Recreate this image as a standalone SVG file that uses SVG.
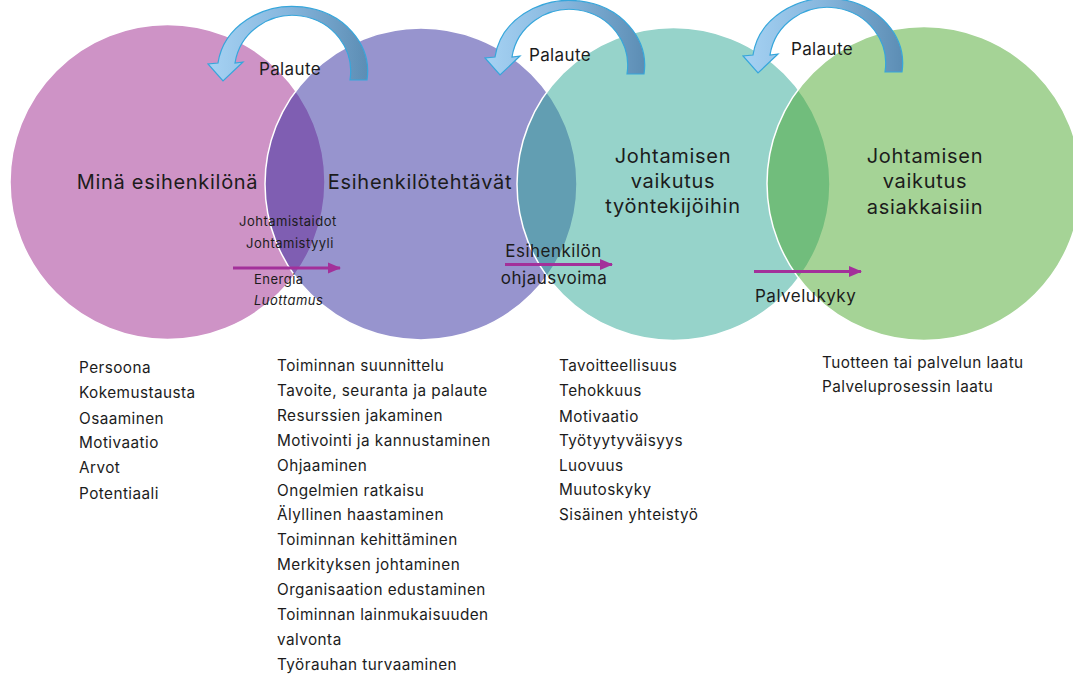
<svg xmlns="http://www.w3.org/2000/svg" width="1073" height="674" viewBox="0 0 1073 674">
  <style>
    text { font-family: Inter, "Open Sans", "Liberation Sans", sans-serif; fill: #1c1c1c; }
    .title { font-size: 20px; text-anchor: middle; letter-spacing: 0.7px; }
    .pal { font-size: 17px; text-anchor: middle; letter-spacing: 0.4px; }
    .list { font-size: 15.3px; letter-spacing: 0.45px; }
    .small { font-size: 13px; letter-spacing: 0.5px; }
    .mid { font-size: 17px; letter-spacing: 0.5px; }
    .circ { stroke: #ffffff; stroke-width: 1.5; fill-opacity: 0.5; }
    .link { stroke: #A3309A; stroke-width: 2.8; fill: none; }
  </style>
  <defs>
    <linearGradient id="cg" x1="0" y1="0" x2="1" y2="0">
      <stop offset="0" stop-color="#A6D2F3"/>
      <stop offset="0.5" stop-color="#86B6DD"/>
      <stop offset="1" stop-color="#5C8DB4"/>
    </linearGradient>
    <marker id="ah" markerUnits="userSpaceOnUse" markerWidth="13" markerHeight="12" refX="12" refY="6" orient="auto">
      <path d="M0,0.5 L13,6 L0,11.5 Z" fill="#A3309A"/>
    </marker>
    <path id="curv" d="M367 80 A75 65 0 0 0 218 63 L208 64 L223 81 L243 62 L235 63 A58 56 0 0 1 350 80 Z" fill="url(#cg)" stroke="#36A6DB" stroke-width="1.2"/>
  </defs>

  <g id="node-mina">
    <circle class="circ" cx="167.5" cy="182" r="157.5" fill="#9D278D"/>
    <text class="title" x="167.5" y="189">Minä esihenkilönä</text>
    <text class="list" x="79" y="373">Persoona</text>
    <text class="list" x="79" y="398">Kokemustausta</text>
    <text class="list" x="79" y="423.5">Osaaminen</text>
    <text class="list" x="79" y="448">Motivaatio</text>
    <text class="list" x="79" y="473">Arvot</text>
    <text class="list" x="79" y="498.5">Potentiaali</text>
  </g>

  <g id="node-tehtavat">
    <circle class="circ" cx="421" cy="184" r="156" fill="#2F299D"/>
    <text class="title" x="420" y="189">Esihenkilötehtävät</text>
    <text class="list" x="277" y="371">Toiminnan suunnittelu</text>
    <text class="list" x="277" y="396">Tavoite, seuranta ja palaute</text>
    <text class="list" x="277" y="421">Resurssien jakaminen</text>
    <text class="list" x="277" y="446">Motivointi ja kannustaminen</text>
    <text class="list" x="277" y="471">Ohjaaminen</text>
    <text class="list" x="277" y="495.5">Ongelmien ratkaisu</text>
    <text class="list" x="277" y="520">Älyllinen haastaminen</text>
    <text class="list" x="277" y="545">Toiminnan kehittäminen</text>
    <text class="list" x="277" y="570">Merkityksen johtaminen</text>
    <text class="list" x="277" y="595">Organisaation edustaminen</text>
    <text class="list" x="277" y="620">Toiminnan lainmukaisuuden</text>
    <text class="list" x="277" y="645">valvonta</text>
    <text class="list" x="277" y="670">Työrauhan turvaaminen</text>
  </g>

  <g id="node-tyontekijat">
    <circle class="circ" cx="673.5" cy="184" r="156.5" fill="#2DA795"/>
    <text class="title" x="673" y="163">Johtamisen</text>
    <text class="title" x="673" y="188">vaikutus</text>
    <text class="title" x="673" y="213">työntekijöihin</text>
    <text class="list" x="559" y="371">Tavoitteellisuus</text>
    <text class="list" x="559" y="396">Tehokkuus</text>
    <text class="list" x="559" y="421.5">Motivaatio</text>
    <text class="list" x="559" y="446">Työtyytyväisyys</text>
    <text class="list" x="559" y="470.5">Luovuus</text>
    <text class="list" x="559" y="495">Muutoskyky</text>
    <text class="list" x="559" y="520">Sisäinen yhteistyö</text>
  </g>

  <g id="node-asiakkaat">
    <circle class="circ" cx="924" cy="183.5" r="157" fill="#4BA72D"/>
    <text class="title" x="925" y="163">Johtamisen</text>
    <text class="title" x="925" y="188">vaikutus</text>
    <text class="title" x="925" y="214">asiakkaisiin</text>
    <text class="list" x="822" y="367.5">Tuotteen tai palvelun laatu</text>
    <text class="list" x="822" y="392">Palveluprosessin laatu</text>
  </g>

  <g id="connectors">
    <use href="#curv"/>
    <use href="#curv" transform="translate(277,-6)"/>
    <use href="#curv" transform="translate(535,-8)"/>
    <text class="pal" x="290" y="75">Palaute</text>
    <text class="pal" x="560" y="61">Palaute</text>
    <text class="pal" x="822" y="55">Palaute</text>

    <line class="link" x1="233" y1="268" x2="340" y2="268" marker-end="url(#ah)"/>
    <line class="link" x1="505" y1="264.5" x2="612" y2="264.5" marker-end="url(#ah)"/>
    <line class="link" x1="754" y1="271.5" x2="861" y2="271.5" marker-end="url(#ah)"/>

    <text class="small" x="239" y="226">Johtamistaidot</text>
    <text class="small" x="246" y="248">Johtamistyyli</text>
    <text class="small" x="254" y="284">Energia</text>
    <text class="small" x="254" y="305" font-style="italic">Luottamus</text>

    <text class="mid" x="553.5" y="257" text-anchor="middle">Esihenkilön</text>
    <text class="mid" x="554" y="284" text-anchor="middle">ohjausvoima</text>
    <text class="mid" x="755" y="302">Palvelukyky</text>
  </g>
</svg>
